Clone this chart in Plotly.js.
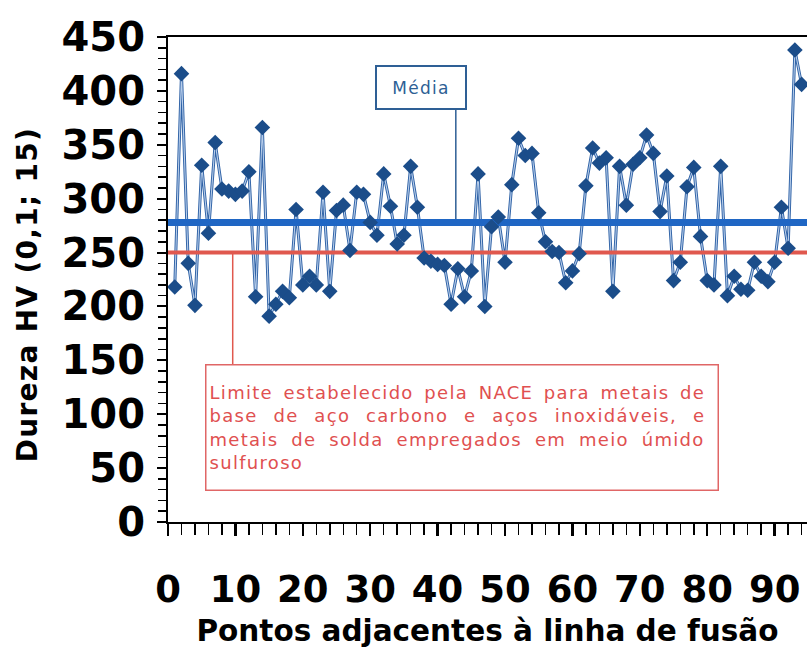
<!DOCTYPE html>
<html><head><meta charset="utf-8">
<script src="https://cdn.plot.ly/plotly-3.0.1.min.js"></script>
<style>
html,body{margin:0;padding:0;overflow:hidden;background:#fff}
.nace .annotation-text{letter-spacing:1.3px}
.nace .annotation-text tspan.line:nth-of-type(1){word-spacing:3.6px}
.nace .annotation-text tspan.line:nth-of-type(2){word-spacing:8.8px}
.nace .annotation-text tspan.line:nth-of-type(3){word-spacing:5.9px}
</style>
</head><body><div id="chart" class="nace" style="width:807px;height:648px"></div>
<script>
const pointNumbers = [1,2,3,4,5,6,7,8,9,10,11,12,13,14,15,16,17,18,19,20,21,22,23,24,25,26,27,28,29,30,31,32,33,34,35,36,37,38,39,40,41,42,43,44,45,46,47,48,49,50,51,52,53,54,55,56,57,58,59,60,61,62,63,64,65,66,67,68,69,70,71,72,73,74,75,76,77,78,79,80,81,82,83,84,85,86,87,88,89,90,91,92,93,94];
const hardness = [218,416,240,201,331,268,352,309,307,304,307,325,209,366,191,202,214,208,290,220,228,220,306,214,289,294,252,306,304,278,266,323,293,258,266,330,292,245,242,239,238,202,235,209,233,323,200,274,283,241,313,356,340,342,287,260,251,250,222,233,249,312,347,333,338,214,330,294,332,338,359,342,288,321,224,241,311,329,265,224,220,330,210,228,216,215,241,228,223,241,292,254,438,406];
const meanHardness = 278;
const naceLimit = 250;
const xTickValues = [0,10,20,30,40,50,60,70,80,90];
const xTickLabels = ['0','10','20','30','40','50','60','70','80','90'];
const yTickValues = [0,50,100,150,200,250,300,350,400,450];
const yTickLabels = ['0','50','100','150','200','250','300','350','400','450'];
const lineSpan = [0, 100];
const mediaLabel = 'Média';
const naceText = 'Limite estabelecido pela NACE para metais de<br>base de aço carbono e aços inoxidáveis, e<br>metais de solda empregados em meio úmido<br>sulfuroso';
const xTitle = 'Pontos adjacentes à linha de fusão';
const yTitle = 'Dureza HV (0,1; 15)';

const blueDark = '#1b4d8a';
const blueMean = '#1f66c4';
const redLim = '#e0584e';
const boldFont = '"DejaVu Sans", Arial, sans-serif';

const traces = [
  {x: pointNumbers, y: hardness, mode: 'lines', line: {color: '#2f62a6', width: 3}, hoverinfo: 'skip', showlegend: false},
  {x: pointNumbers, y: hardness, mode: 'lines', line: {color: '#b7cdea', width: 1.1}, hoverinfo: 'skip', showlegend: false},
  {x: lineSpan, y: [naceLimit, naceLimit], mode: 'lines', line: {color: redLim, width: 4}, showlegend: false},
  {x: lineSpan, y: [meanHardness, meanHardness], mode: 'lines', line: {color: blueMean, width: 7}, showlegend: false},
  {x: pointNumbers, y: hardness, mode: 'markers', marker: {symbol: 'diamond', size: 12, color: blueDark}, showlegend: false}
];

const layout = {
  width: 807, height: 648,
  margin: {l: 168, r: 0, t: 37, b: 126},
  paper_bgcolor: '#fff', plot_bgcolor: '#fff',
  showlegend: false,
  font: {family: boldFont, color: '#000'},
  xaxis: {
    range: [0, 94.8], tickvals: xTickValues, ticktext: xTickLabels,
    ticks: 'outside', ticklen: 12, tickwidth: 2.5, tickcolor: '#000',
    minor: {dtick: 2, tick0: 0, ticks: 'outside', ticklen: 11, tickwidth: 1.5, tickcolor: '#000'},
    showline: true, linecolor: '#000', linewidth: 2, mirror: true,
    showgrid: false, zeroline: false,
    tickfont: {family: boldFont, size: 37, color: '#000', weight: 'bold'},
    ticklabelstandoff: 22,
    title: {text: xTitle, font: {family: boldFont, size: 29.5, color: '#000', weight: 'bold'}, standoff: 10}
  },
  yaxis: {
    range: [0, 450], tickvals: yTickValues, ticktext: yTickLabels,
    ticks: 'outside', ticklen: 9, tickwidth: 2, tickcolor: '#000',
    minor: {dtick: 10, tick0: 0, ticks: 'outside', ticklen: 8, tickwidth: 1.5, tickcolor: '#000'},
    showline: true, linecolor: '#000', linewidth: 2,
    showgrid: false, zeroline: false,
    tickfont: {family: boldFont, size: 40, color: '#000', weight: 'bold'},
    ticklabelstandoff: 4,
    title: {text: ''}
  },
  shapes: [
    {type: 'line', xref: 'x', yref: 'y', x0: 42.7, x1: 42.7, y0: 384, y1: meanHardness, line: {color: '#2e5f95', width: 1.5}, layer: 'below'},
    {type: 'line', xref: 'x', yref: 'y', x0: 9.6, x1: 9.6, y0: 145.6, y1: naceLimit, line: {color: redLim, width: 1.5}, layer: 'below'}
  ],
  annotations: [
    {text: yTitle, xref: 'paper', yref: 'paper', x: -0.2207, y: 0.47, textangle: -90, showarrow: false,
     xanchor: 'center', yanchor: 'middle',
     font: {family: boldFont, size: 28, color: '#000', weight: 'bold'}},
    {text: mediaLabel, xref: 'x', yref: 'y', x: 37.5, y: 403.5, showarrow: false,
     width: 84, height: 37, borderpad: 2, bordercolor: '#2e5f95', borderwidth: 2, bgcolor: '#fff',
     font: {family: '"DejaVu Sans", Arial, sans-serif', size: 17, color: '#2e5f95'}},
    {text: naceText, xref: 'x', yref: 'y', x: 43.6, y: 87.7, showarrow: false, align: 'left',
     width: 505, height: 118, borderpad: 3, bordercolor: '#e06666', borderwidth: 1.5, bgcolor: '#fff',
     font: {family: '"DejaVu Sans", Arial, sans-serif', size: 18, color: '#e05050'}}
  ]
};

Plotly.newPlot('chart', traces, layout, {displayModeBar: false, staticPlot: true});
</script>
</body></html>
